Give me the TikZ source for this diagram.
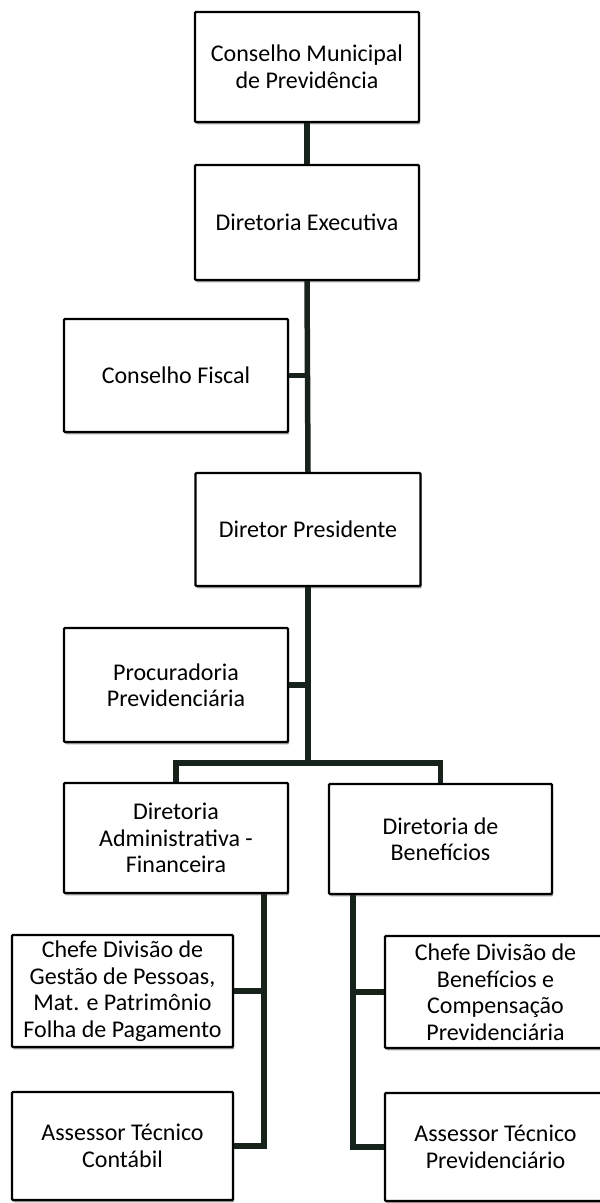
\documentclass[tikz,border=0pt]{standalone}
\usepackage{fontspec}
\setmainfont{Carlito}
\usepackage{tikz}
\usetikzlibrary{positioning,calc,shadows}

\definecolor{linkcol}{RGB}{22,34,26}

\tikzset{
    box/.style={draw=black, line width=2.2pt, fill=white, align=center,
        inner sep=0pt, rounded corners=1pt,
        drop shadow={shadow xshift=1.2pt, shadow yshift=-2.4pt, fill=black!45, opacity=0.8},
        font=\fontsize{24}{26.5}\selectfont},
    link/.style={draw=linkcol, line width=5.5pt}
}

\begin{document}
\begin{tikzpicture}[x=1pt, y=-1pt]
        \useasboundingbox[fill=white] (0,0) rectangle (600,1203);

        % Top of the chart
        \node[box, minimum width=224pt, minimum height=110pt] (cmp) at (307,67) {Conselho Municipal\\de Previdência};
        \node[box, minimum width=224pt, minimum height=115pt] (dexec) at (307,222.5) {Diretoria Executiva};
        \node[box, minimum width=224pt, minimum height=113pt] (cfiscal) at (176,375.5) {Conselho Fiscal};
        \node[box, minimum width=225pt, minimum height=113pt] (dpres) at (308,529.5) {Diretor Presidente};
        \node[box, minimum width=224pt, minimum height=114pt] (procur) at (176,685) {Procuradoria\\Previdenciária};

        % Directorates
        \node[box, minimum width=224pt, minimum height=110pt] (dadm) at (176,838) {Diretoria\\Administrativa -\\Financeira};
        \node[box, minimum width=223pt, minimum height=110pt] (dbenef) at (440.5,839) {Diretoria de\\Benefícios};

        % Left branch
        \node[box, minimum width=221pt, minimum height=112pt] (chefeA) at (122.5,991) {Chefe Divisão de\\Gestão de Pessoas,\\Mat. e Patrimônio\\Folha de Pagamento};
        \node[box, minimum width=221pt, minimum height=108pt] (assessA) at (122.5,1146) {Assessor Técnico\\Contábil};

        % Right branch
        \node[box, minimum width=221pt, minimum height=112pt] (chefeB) at (495.5,992) {Chefe Divisão de\\Benefícios e\\Compensação\\Previdenciária};
        \node[box, minimum width=221pt, minimum height=108pt] (assessB) at (495.5,1147) {Assessor Técnico\\Previdenciário};

        % Connectors
        \coordinate (split) at (308,763);
        \coordinate (vA) at ([xshift=88pt]dadm.south);
        \coordinate (vB) at ([xshift=-87.5pt]dbenef.south);
        \draw[link] (cmp.south) -- (dexec.north);
        \draw[link] (dexec.south) -- (dpres.north);
        \draw[link] (cfiscal.east) -- (cfiscal.east -| dpres.north);
        \draw[link] (dpres.south) -- (split);
        \draw[link] (procur.east) -- (procur.east -| split);
        \draw[link] (dadm.north) |- (split) -| (dbenef.north);
        \draw[link] (vA) |- (assessA.east);
        \draw[link] (chefeA.east) -- (chefeA.east -| vA);
        \draw[link] (vB) |- (assessB.west);
        \draw[link] (chefeB.west) -- (chefeB.west -| vB);
    \end{tikzpicture}
\end{document}
